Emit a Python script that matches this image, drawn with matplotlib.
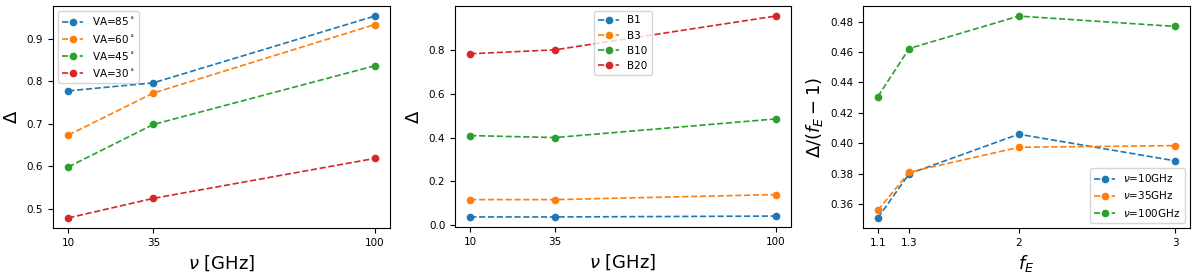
import matplotlib
matplotlib.use("Agg")
import matplotlib.pyplot as plt

freqs = [10, 35, 100]
va_labels = ["VA=85$^\\circ$", "VA=60$^\\circ$", "VA=45$^\\circ$", "VA=30$^\\circ$"]
va85 = [0.777, 0.796, 0.953]
va60 = [0.673, 0.772, 0.933]
va45 = [0.598, 0.698, 0.836]
va30 = [0.478, 0.524, 0.618]

b_labels = ["B1", "B3", "B10", "B20"]
b1 = [0.038, 0.038, 0.042]
b3 = [0.117, 0.117, 0.140]
b10 = [0.409, 0.400, 0.485]
b20 = [0.782, 0.800, 0.954]

fe = [1.1, 1.3, 2, 3]
fe_labels = ["$\\nu$=10GHz", "$\\nu$=35GHz", "$\\nu$=100GHz"]
nu10 = [0.351, 0.380, 0.406, 0.3885]
nu35 = [0.356, 0.381, 0.3974, 0.3985]
nu100 = [0.4307, 0.4623, 0.4836, 0.4768]

colors = ["#1f77b4", "#ff7f0e", "#2ca02c", "#d62728"]

fig = plt.figure(figsize=(12, 2.74), dpi=100)
H = 274.0
def ax_px(x0, x1, ytop, ybot):
    return fig.add_axes([x0 / 1200, (H - ybot) / H, (x1 - x0) / 1200, (ybot - ytop) / H])

ax1 = ax_px(53, 390, 6, 228)
ax2 = ax_px(455, 791, 6, 227)
ax3 = ax_px(863, 1190, 6, 228)

style = dict(linestyle="--", marker="o", markersize=4.5, linewidth=1.2)

for vals, lab, c in zip([va85, va60, va45, va30], va_labels, colors):
    ax1.plot(freqs, vals, color=c, label=lab, **style)
ax1.set_xticks(freqs)
ax1.set_yticks([0.5, 0.6, 0.7, 0.8, 0.9])
ax1.set_xlabel("$\\nu$ [GHz]", fontsize=13)
ax1.set_ylabel("$\\Delta$", fontsize=13)
ax1.legend(loc="upper left", fontsize=7.5)

for vals, lab, c in zip([b1, b3, b10, b20], b_labels, colors):
    ax2.plot(freqs, vals, color=c, label=lab, **style)
ax2.set_xticks(freqs)
ax2.set_yticks([0.0, 0.2, 0.4, 0.6, 0.8])
ax2.set_xlabel("$\\nu$ [GHz]", fontsize=13)
ax2.set_ylabel("$\\Delta$", fontsize=13)
ax2.legend(loc="upper center", fontsize=7.5)

for vals, lab, c in zip([nu10, nu35, nu100], fe_labels, colors):
    ax3.plot(fe, vals, color=c, label=lab, **style)
ax3.set_xticks(fe)
ax3.set_xticklabels(["1.1", "1.3", "2", "3"])
ax3.set_yticks([0.36, 0.38, 0.40, 0.42, 0.44, 0.46, 0.48])
ax3.set_xlabel("$f_E$", fontsize=13)
ax3.set_ylabel("$\\Delta/(f_E-1)$", fontsize=13)
ax3.legend(loc="lower right", fontsize=7.5)

for ax in (ax1, ax2, ax3):
    ax.tick_params(labelsize=7.5)

fig.savefig("out.png", dpi=100)
